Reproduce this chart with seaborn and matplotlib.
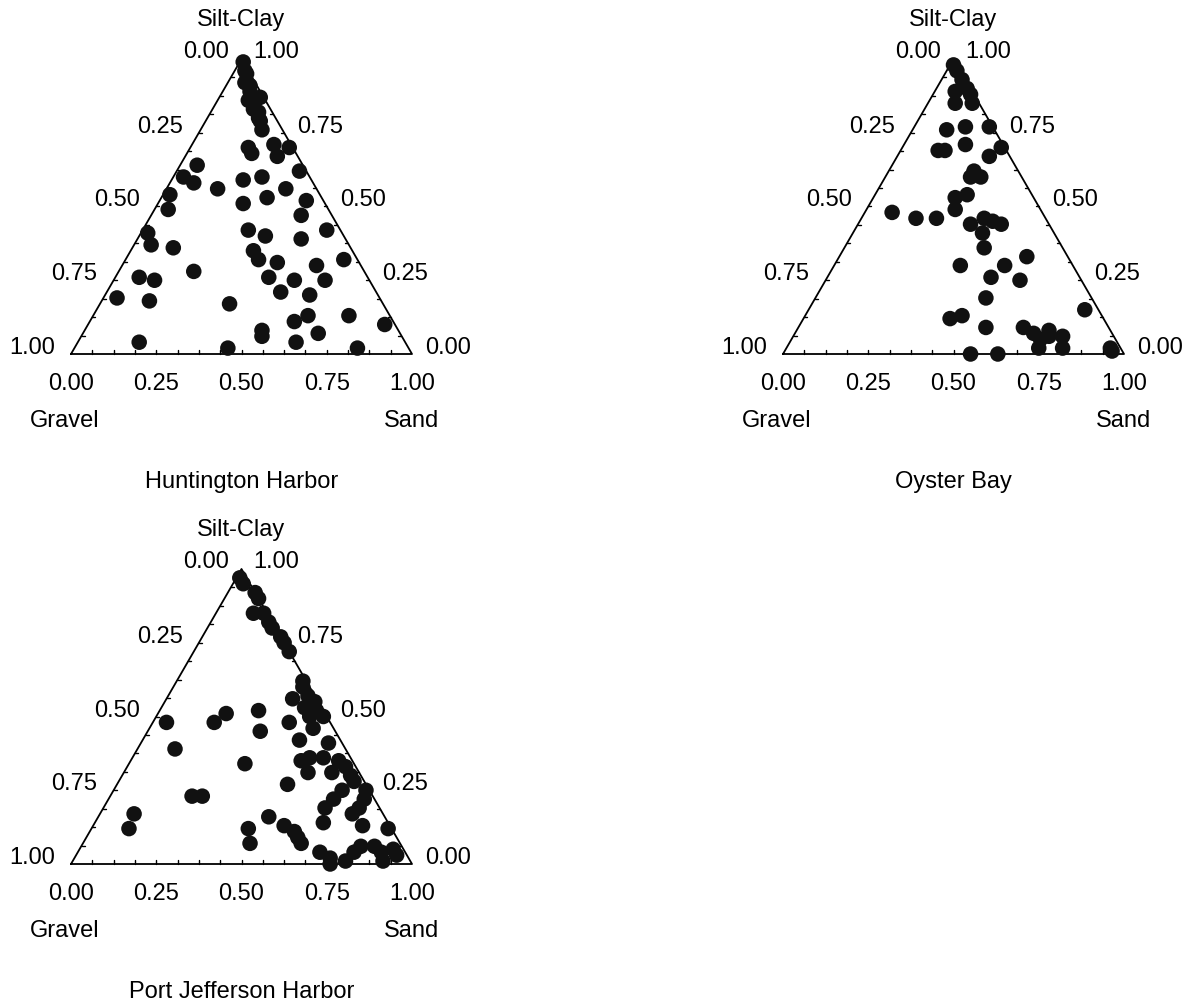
"""
Diagrammes ternaires granulométriques (Gravel / Sand / Silt-Clay)
pour trois baies : Huntington Harbor, Oyster Bay, Port Jefferson Harbor.
"""

import numpy as np
import pandas as pd
import matplotlib
matplotlib.use("Agg")
import matplotlib.pyplot as plt
import seaborn as sns

# Fractions : sable et silt-argile (gravier = 1 - sable - silt)
hh_sand = [0.01, 0.04, 0.05, 0.08, 0.09, 0.12, 0.12, 0.15, 0.18, 0.17,
           0.19, 0.24, 0.27, 0.29, 0.36, 0.05, 0.03, 0.07, 0.15, 0.21,
           0.26, 0.35, 0.02, 0.04, 0.25, 0.31, 0.43, 0.44, 0.02, 0.05,
           0.12, 0.31, 0.37, 0.48, 0.54, 0.36, 0.39, 0.45, 0.57, 0.64,
           0.22, 0.07, 0.12, 0.45, 0.53, 0.62, 0.51, 0.60, 0.04, 0.14,
           0.38, 0.63, 0.75, 0.60, 0.52, 0.53, 0.69, 0.87, 0.64, 0.18,
           0.45, 0.83, 0.03, 0.07, 0.11, 0.14, 0.16]
hh_silt = [0.99, 0.95, 0.92, 0.89, 0.86, 0.83, 0.87, 0.80, 0.76, 0.70,
           0.68, 0.71, 0.67, 0.70, 0.62, 0.64, 0.60, 0.58, 0.56, 0.59,
           0.60, 0.56, 0.54, 0.49, 0.51, 0.53, 0.52, 0.47, 0.41, 0.37,
           0.36, 0.42, 0.40, 0.39, 0.42, 0.35, 0.32, 0.31, 0.30, 0.32,
           0.28, 0.26, 0.25, 0.26, 0.25, 0.25, 0.21, 0.20, 0.19, 0.18,
           0.17, 0.13, 0.13, 0.11, 0.08, 0.06, 0.07, 0.10, 0.04, 0.04,
           0.02, 0.02, 0.96, 0.91, 0.86, 0.82, 0.79]

ob_sand = [0.01, 0.03, 0.06, 0.09, 0.06, 0.11, 0.08, 0.13, 0.10, 0.15,
           0.22, 0.29, 0.18, 0.11, 0.13, 0.27, 0.25, 0.28, 0.25, 0.27,
           0.24, 0.26, 0.08, 0.16, 0.22, 0.36, 0.39, 0.42, 0.33, 0.38,
           0.41, 0.37, 0.50, 0.55, 0.48, 0.57, 0.50, 0.43, 0.46, 0.55,
           0.66, 0.70, 0.73, 0.74, 0.75, 0.79, 0.81, 0.74, 0.81, 0.95,
           0.55, 0.63, 0.96]
ob_silt = [0.98, 0.96, 0.93, 0.90, 0.89, 0.88, 0.85, 0.85, 0.76, 0.77,
           0.77, 0.70, 0.71, 0.69, 0.69, 0.67, 0.62, 0.60, 0.60, 0.54,
           0.53, 0.49, 0.48, 0.46, 0.46, 0.46, 0.45, 0.44, 0.44, 0.41,
           0.36, 0.30, 0.30, 0.33, 0.26, 0.25, 0.19, 0.12, 0.13, 0.09,
           0.09, 0.07, 0.05, 0.08, 0.06, 0.06, 0.02, 0.02, 0.15, 0.02,
           0.00, 0.00, 0.01]

pj_sand = [0.01, 0.03, 0.08, 0.10, 0.11, 0.14, 0.17, 0.19, 0.23, 0.25,
           0.28, 0.37, 0.38, 0.37, 0.41, 0.44, 0.42, 0.46, 0.49, 0.45,
           0.04, 0.18, 0.20, 0.29, 0.33, 0.40, 0.48, 0.46, 0.55, 0.11,
           0.56, 0.52, 0.50, 0.54, 0.61, 0.61, 0.64, 0.67, 0.69, 0.74,
           0.67, 0.66, 0.65, 0.75, 0.75, 0.74, 0.34, 0.50, 0.24, 0.27,
           0.10, 0.11, 0.46, 0.49, 0.50, 0.56, 0.60, 0.62, 0.64, 0.67,
           0.79, 0.87, 0.71, 0.75, 0.76, 0.80, 0.81, 0.82, 0.86, 0.89,
           0.91, 0.92, 0.94]
pj_silt = [0.97, 0.95, 0.92, 0.90, 0.85, 0.85, 0.82, 0.80, 0.77, 0.75,
           0.72, 0.62, 0.60, 0.56, 0.57, 0.55, 0.53, 0.52, 0.50, 0.50,
           0.48, 0.48, 0.51, 0.52, 0.45, 0.48, 0.46, 0.42, 0.41, 0.39,
           0.36, 0.36, 0.35, 0.31, 0.35, 0.31, 0.33, 0.30, 0.28, 0.25,
           0.25, 0.22, 0.19, 0.22, 0.19, 0.17, 0.34, 0.27, 0.23, 0.23,
           0.17, 0.12, 0.12, 0.07, 0.16, 0.13, 0.11, 0.09, 0.07, 0.14,
           0.13, 0.12, 0.04, 0.02, 0.00, 0.01, 0.04, 0.06, 0.06, 0.04,
           0.01, 0.05, 0.03]

sites = ["Huntington Harbor", "Oyster Bay", "Port Jefferson Harbor"]
left_ticks = ["0.25", "0.50", "0.75", "1.00"]
right_ticks = ["0.75", "0.50", "0.25", "0.00"]
bottom_ticks = ["0.00", "0.25", "0.50", "0.75", "1.00"]

sns.set_theme(style="white")
plt.rcParams['font.family'] = ['Liberation Sans', 'DejaVu Sans']

SQ = np.sqrt(3) / 2
FS = 17
W_PX, H_PX = 1192, 1005


def to_xy(sand, silt):
    sand = np.asarray(sand, dtype=float)
    silt = np.asarray(silt, dtype=float)
    return sand + 0.5 * silt, silt * SQ


def label(ax, txt, xy, dx, dy, ha="center"):
    ax.annotate(txt, xy=xy, xytext=(dx, dy), textcoords="offset pixels",
                ha=ha, va="center", fontsize=FS, color="black",
                annotation_clip=False)


def ternary(ax, sand, silt, name):
    ax.set_xlim(0, 1)
    ax.set_ylim(0, SQ)
    ax.axis("off")
    ax.plot([0, 1, 0.5, 0], [0, 0, SQ, 0], color="black", lw=1.3,
            clip_on=False, zorder=2)

    # petites graduations vers l'intérieur (1/16)
    t = np.linspace(0, 1, 17)[1:-1]
    L = 0.009
    for v in t:
        ax.plot([v, v], [0, L * 1.2], color="black", lw=1.0, clip_on=False)
        lx, ly = 0.5 * v, SQ * v
        ax.plot([lx, lx + L], [ly, ly], color="black", lw=1.0, clip_on=False)
        rx, ry = 1 - 0.5 * v, SQ * v
        ax.plot([rx, rx - L], [ry, ry], color="black", lw=1.0, clip_on=False)

    x, y = to_xy(sand, silt)
    df = pd.DataFrame({"x": x, "y": y})
    sns.scatterplot(data=df, x="x", y="y", ax=ax, s=125, color="#111111",
                    edgecolor="none", linewidth=0, legend=False,
                    clip_on=False, zorder=3)
    ax.set_xlabel("")
    ax.set_ylabel("")

    # étiquettes des axes
    label(ax, "0.00", (0.5, SQ), -13, 7, ha="right")
    label(ax, "1.00", (0.5, SQ), 12, 7, ha="left")
    for i, txt in enumerate(left_ticks):
        v = (i + 1) * 0.25
        label(ax, txt, (0.5 * (1 - v), SQ * (1 - v)), -16, 6, ha="right")
    for i, txt in enumerate(right_ticks):
        v = 0.75 - i * 0.25
        label(ax, txt, (1 - 0.5 * v, SQ * v), 13, 6, ha="left")
    for i, txt in enumerate(bottom_ticks):
        label(ax, txt, (i * 0.25, 0), 0, -30)

    label(ax, "Silt-Clay", (0.5, SQ), 0, 39)
    label(ax, "Gravel", (0, 0), -6, -67)
    label(ax, "Sand", (1, 0), 0, -67)
    label(ax, name, (0.5, 0), 0, -128)


fig = plt.figure(figsize=(W_PX / 100, H_PX / 100), dpi=100)
fig.patch.set_facecolor("white")

# coin inférieur gauche de chaque triangle (pixels)
placements = [(71, 354), (783, 354), (71, 864)]
datasets = [(hh_sand, hh_silt), (ob_sand, ob_silt), (pj_sand, pj_silt)]
for (px, py), (sd, sl), name in zip(placements, datasets, sites):
    ax = fig.add_axes([px / W_PX, (H_PX - py) / H_PX, 341 / W_PX, 295 / H_PX])
    ternary(ax, sd, sl, name)

plt.savefig("out.png", dpi=100, facecolor="white")
plt.close()
